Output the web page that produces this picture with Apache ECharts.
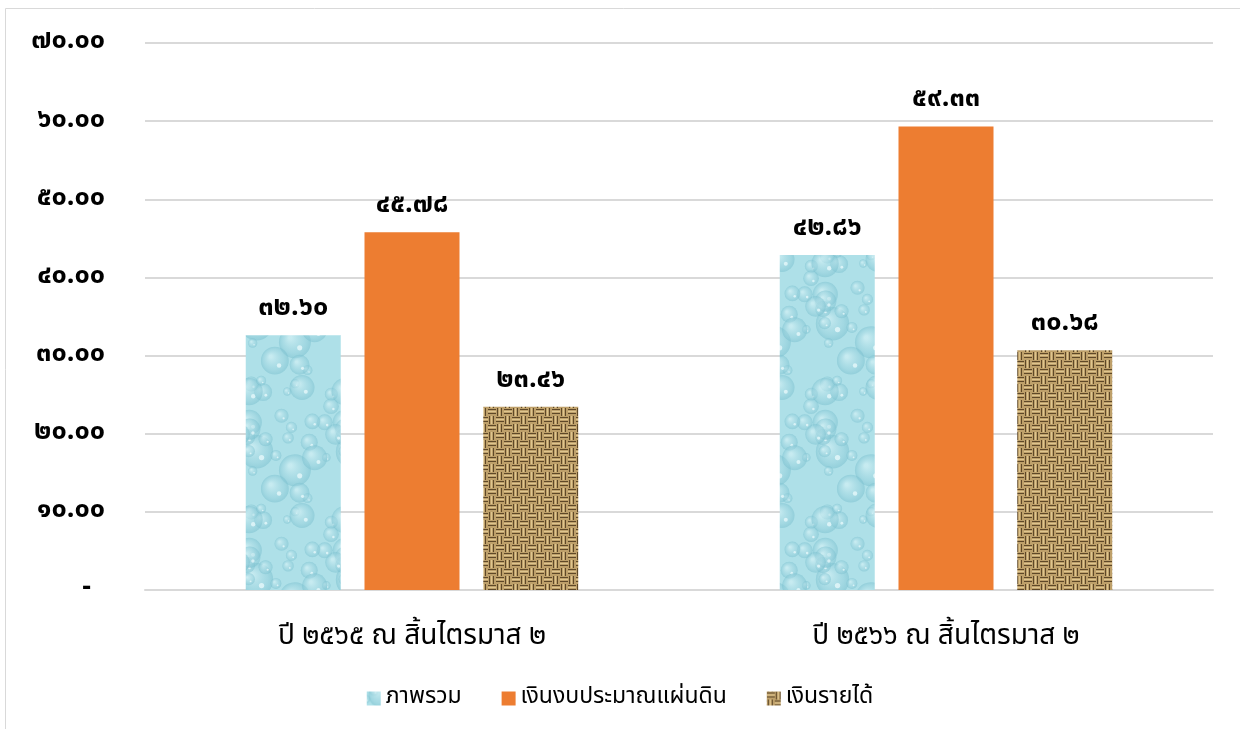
<!DOCTYPE html>
<html><head><meta charset="utf-8">
<script src="https://cdn.jsdelivr.net/npm/echarts@6/dist/echarts.min.js"></script>
<style>html,body{margin:0;padding:0;background:#fff}#c{width:1240px;height:729px}</style>
</head><body><div id="c"></div>
<script>
const categories = ['ปี ๒๕๖๕ ณ สิ้นไตรมาส ๒', 'ปี ๒๕๖๖ ณ สิ้นไตรมาส ๒'];
const seriesNames = ['ภาพรวม', 'เงินงบประมาณแผ่นดิน', 'เงินรายได้'];
const overall = [32.60, 42.86];
const budget = [45.78, 59.33];
const income = [23.46, 30.68];
const yMin = 0, yMax = 70, yStep = 10;

const FONT = '"Noto Sans Thai", Tahoma, "Noto Sans", "DejaVu Sans", sans-serif';
function thaiDigits(s){ return String(s).replace(/[0-9]/g, d => '๐๑๒๓๔๕๖๗๘๙'[+d]); }

function lcg(seed){ let s = seed; return () => (s = (s * 1103515245 + 12345) % 2147483648) / 2147483648; }
function waterCanvas(){
  const c = document.createElement('canvas'); c.width = 96; c.height = 128;
  const g = c.getContext('2d');
  g.fillStyle = '#aee0e8'; g.fillRect(0,0,96,128);
  const r = lcg(7);
  for (let i=0;i<30;i++){
    const x = r()*96, y = r()*128, rad = 4 + r()*r()*16;
    for (const dx of [-96,0,96]) for (const dy of [-128,0,128]) {
      const cx = x+dx, cy = y+dy;
      const gr = g.createRadialGradient(cx-rad*0.3, cy-rad*0.3, rad*0.1, cx, cy, rad);
      gr.addColorStop(0,'rgba(215,242,246,0.6)');
      gr.addColorStop(0.7,'rgba(150,208,220,0.45)');
      gr.addColorStop(1,'rgba(120,190,205,0.5)');
      g.fillStyle = gr; g.beginPath(); g.arc(cx,cy,rad,0,Math.PI*2); g.fill();
      g.fillStyle = 'rgba(240,252,253,0.7)'; g.beginPath(); g.arc(cx+rad*0.3, cy+rad*0.35, rad*0.16, 0, Math.PI*2); g.fill();
    }
  }
  return c;
}
function burlapCanvas(){
  const c = document.createElement('canvas'); c.width = 16; c.height = 16;
  const g = c.getContext('2d');
  g.fillStyle = '#bea06a'; g.fillRect(0,0,16,16);
  g.fillStyle = '#5e4828';
  for (let by=0; by<2; by++) for (let bx=0; bx<2; bx++){
    const ox = bx*8, oy = by*8;
    if ((bx+by)%2===0){ g.fillRect(ox, oy+1, 8, 1); g.fillRect(ox, oy+5, 8, 1); }
    else { g.fillRect(ox+1, oy, 1, 8); g.fillRect(ox+5, oy, 1, 8); }
  }
  g.fillStyle = 'rgba(235,212,160,0.7)';
  for (let by=0; by<2; by++) for (let bx=0; bx<2; bx++){
    const ox = bx*8, oy = by*8;
    if ((bx+by)%2===0){ g.fillRect(ox, oy+3, 8, 1); } else { g.fillRect(ox+3, oy, 1, 8); }
  }
  return c;
}
const waterPat = {image: waterCanvas(), repeat: 'repeat'};
const burlapPat = {image: burlapCanvas(), repeat: 'repeat'};

const chart = echarts.init(document.getElementById('c'), null, {renderer:'canvas'});
const label = {show:true, position:'top', distance:12, fontFamily:FONT, fontSize:27, fontWeight:'bold', color:'#000',
  formatter: p => thaiDigits(p.value.toFixed(2))};
function mk(name, data, color){
  return {name, type:'bar', data, barWidth:95, barGap:'25%', itemStyle:{color}, label};
}
chart.setOption({
  animation:false,
  textStyle:{fontFamily:FONT},
  graphic:[{type:'rect', shape:{x:5.5,y:8.5,width:1300,height:800}, style:{fill:'none', stroke:'#d9d9d9', lineWidth:1}}],
  grid:{left:145, right:27, top:43, bottom:139},
  legend:{bottom:14, left:'center', icon:'rect', itemWidth:14, itemHeight:14, itemGap:40,
    textStyle:{fontFamily:FONT, fontSize:23, color:'#000'}, data:seriesNames},
  xAxis:{type:'category', data:categories, axisTick:{show:false},
    axisLine:{lineStyle:{color:'#d9d9d9', width:2}},
    axisLabel:{margin:34, fontFamily:FONT, fontSize:28, color:'#000'}},
  yAxis:{type:'value', min:yMin, max:yMax, interval:yStep,
    axisLine:{show:false}, axisTick:{show:false},
    splitLine:{lineStyle:{color:'#d9d9d9', width:2}},
    axisLabel:{margin:40, fontFamily:FONT, fontSize:27, fontWeight:'bold', color:'#000',
      formatter: v => v === 0 ? '-  ' : thaiDigits(v.toFixed(2))}},
  series:[mk(seriesNames[0], overall, waterPat), mk(seriesNames[1], budget, '#ed7d31'), mk(seriesNames[2], income, burlapPat)]
});
</script></body></html>
